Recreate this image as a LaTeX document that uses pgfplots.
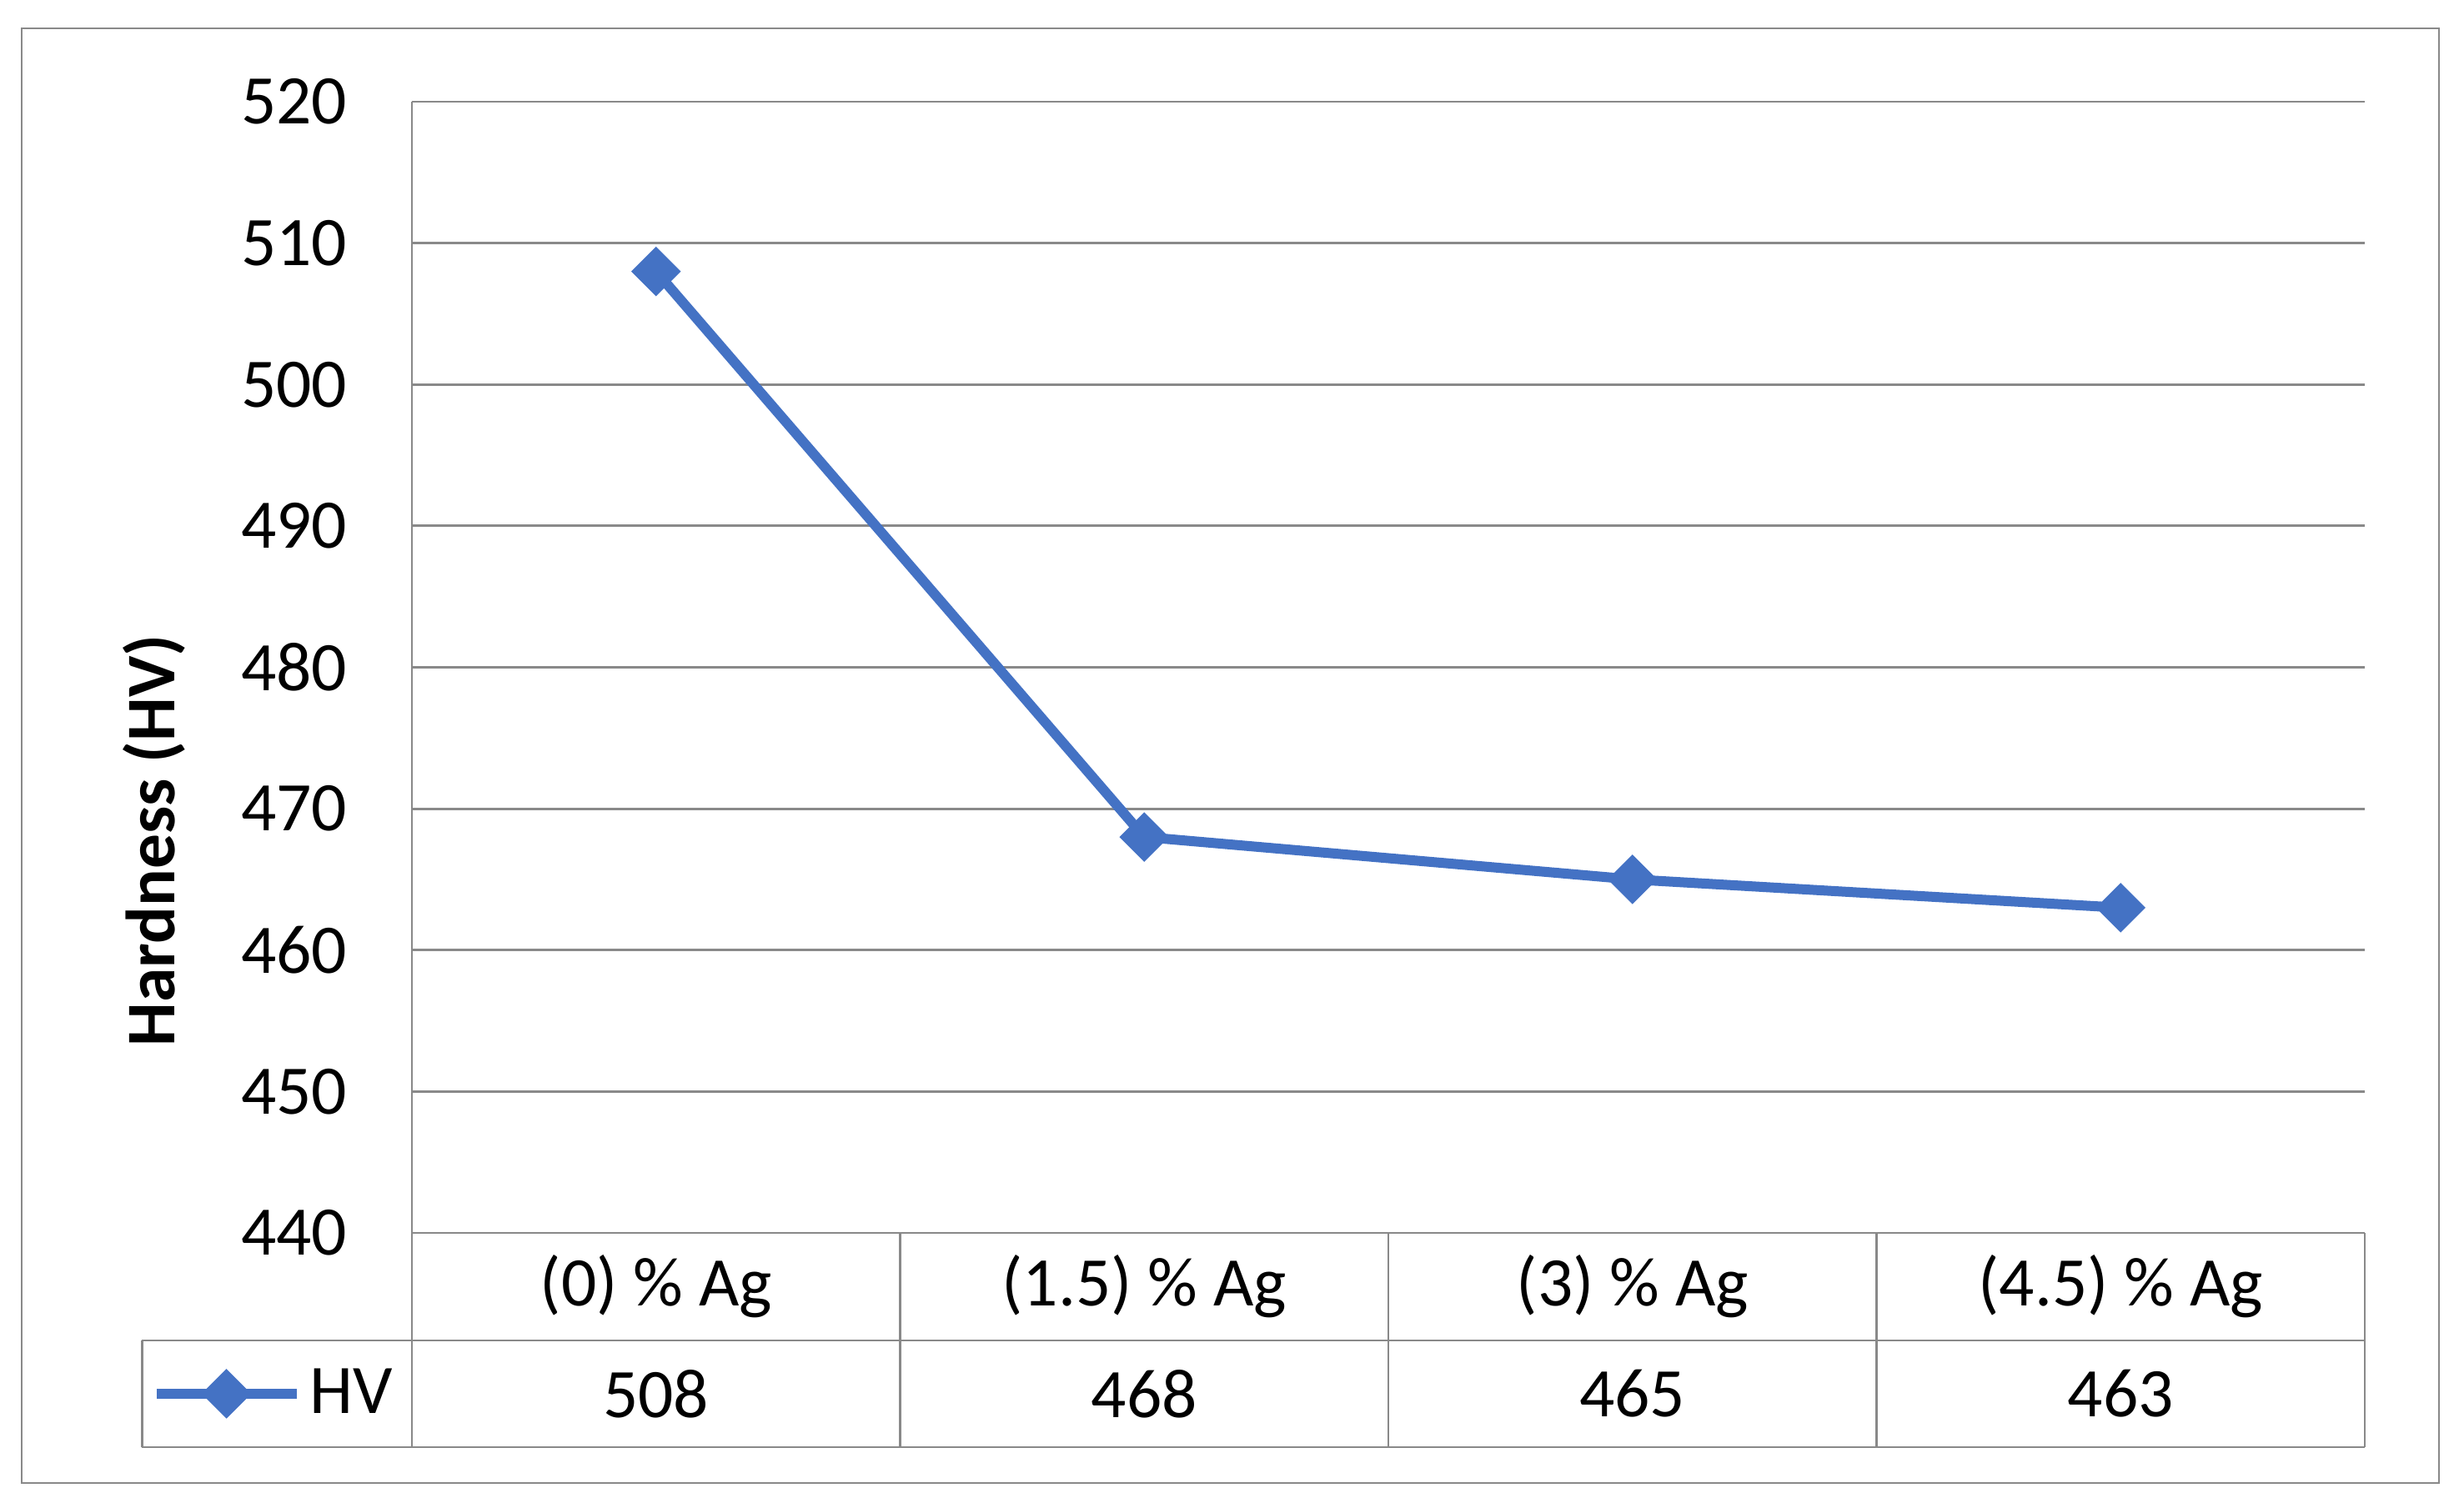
\documentclass[border=0pt]{standalone}
\usepackage{pgfplots}
\pgfplotsset{compat=1.18}
\usepackage{pgfplotstable}
\usepackage{fontspec}
\setmainfont{Carlito}
\definecolor{xlblue}{HTML}{4472C4}
\definecolor{xlgrid}{RGB}{137,137,137}
\pgfplotstableread{
x y
0 508
1 468
2 465
3 463
}\hvdata
\begin{document}
\begin{tikzpicture}[font=\fontsize{16.7}{20}\selectfont]
\path[use as bounding box] (0,0) rectangle (591pt,361.6pt);
\begin{axis}[
  at={(98.8pt,65.8pt)}, anchor=south west,
  scale only axis, width=468.4pt, height=271.4pt,
  xmin=-0.5, xmax=3.5, ymin=440, ymax=520,
  ytick={440,450,...,520},
  xtick={0,1,2,3},
  xticklabels={(0) \% Ag,(1.5) \% Ag,(3) \% Ag,(4.5) \% Ag},
  xticklabel style={anchor=center, inner sep=0pt, yshift=-12.8pt},
  yticklabel style={anchor=east, inner sep=0pt, xshift=-15.4pt},
  /pgf/number format/assume math mode=true,
  major tick length=0pt,
  axis line style={draw=none},
  ymajorgrids, grid style={xlgrid, line width=0.56pt},
  clip=false,
  ylabel={\bfseries Hardness (HV)},
  ylabel style={at={(axis description cs:-0.132,0.347)}, anchor=center},
  legend style={at={(axis description cs:-0.0694,-0.1422)}, anchor=center,
    draw=none, fill=none, inner sep=0pt, font=\fontsize{16.7}{20}\selectfont},
  legend cell align=left,
  legend image code/.code={\draw[mark repeat=2,mark phase=2,#1] plot coordinates {(0pt,0pt)(16.7pt,0pt)(33.5pt,0pt)};},
]
\addplot[color=xlblue, line width=2.4pt, mark=square*, mark size=3.96pt,
  mark options={rotate=45, solid, fill=xlblue, line width=0.5pt}] table[x=x,y=y] {\hvdata};
\addlegendentry{HV}
% table grid
\draw[xlgrid, line width=0.56pt] (axis cs:-0.5,520) -- (axis cs:-0.5,424.85);
\draw[xlgrid, line width=0.56pt] (axis cs:3.5,440) -- (axis cs:3.5,424.85);
\draw[xlgrid, line width=0.56pt] (axis cs:0.5,440) -- (axis cs:0.5,424.85);
\draw[xlgrid, line width=0.56pt] (axis cs:1.5,440) -- (axis cs:1.5,424.85);
\draw[xlgrid, line width=0.56pt] (axis cs:2.5,440) -- (axis cs:2.5,424.85);
\draw[xlgrid, line width=0.56pt] (axis cs:-1.053,432.39) -- (axis cs:3.5,432.39);
\draw[xlgrid, line width=0.56pt] (axis cs:-1.053,424.85) -- (axis cs:3.5,424.85);
\draw[xlgrid, line width=0.56pt] (axis cs:-1.053,432.39) -- (axis cs:-1.053,424.85);
\node at (axis cs:0,428.62) {508};
\node at (axis cs:1,428.62) {468};
\node at (axis cs:2,428.62) {465};
\node at (axis cs:3,428.62) {463};
\end{axis}
\draw[xlgrid, line width=0.56pt] (5.2pt,5.8pt) rectangle (585pt,354.8pt);
\end{tikzpicture}
\end{document}
